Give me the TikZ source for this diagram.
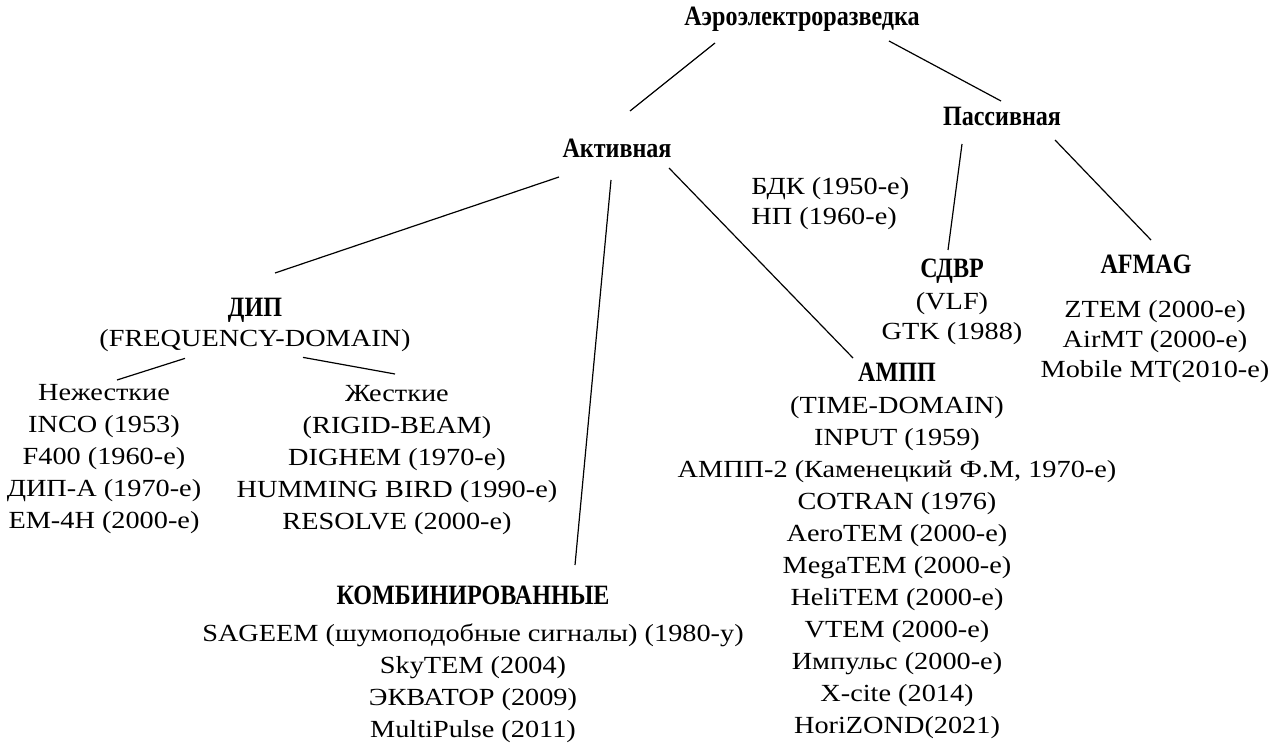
\documentclass[tikz,border=0pt]{standalone}
\usepackage{fontspec}
\setmainfont{Liberation Serif}[FakeStretch=1.15]
\newfontfamily\headfont{Liberation Serif}[FakeStretch=0.86]
\newcommand{\headtext}{\fontsize{14pt}{16pt}\headfont\bfseries}
\usetikzlibrary{calc}

\begin{document}
\begin{tikzpicture}[x=0.5pt, y=-0.5pt,
    font=\fontsize{12.3pt}{16pt}\selectfont,
    head/.style={inner sep=0pt, font=\headtext, text height=1.5ex, text depth=.25ex},
    grp/.style={inner sep=0pt, align=center, anchor=north},
    link/.style={line width=0.6pt}]
  \useasboundingbox (0,0) rectangle (1278,743);

  \node[head] (aero) at (802,20) {Аэроэлектроразведка};
  \node[head] (akt) at (617,152) {Активная};
  \node[head] (pas) at (1002,120) {Пассивная};
  \node[inner sep=0pt, align=left, anchor=north west] (bdk) at (751,177)
       {БДК (1950-е)\\[-1pt]НП (1960-е)};

  % active branch
  \node[grp] (dip) at (255,298) {{\headtext ДИП}\\[-1pt](FREQUENCY-DOMAIN)};
  \node[grp] (nezh) at (104,384) {Нежесткие\\INCO (1953)\\F400 (1960-е)\\ДИП-А (1970-е)\\EM-4H (2000-е)};
  \node[grp] (zhest) at (397,385) {Жесткие\\(RIGID-BEAM)\\DIGHEM (1970-е)\\HUMMING BIRD (1990-е)\\RESOLVE (2000-е)};
  \node[grp] (komb) at (473,586) {{\headtext КОМБИНИРОВАННЫЕ}\\[2.5pt]SAGEEM (шумоподобные сигналы) (1980-у)\\SkyTEM (2004)\\ЭКВАТОР (2009)\\MultiPulse (2011)};
  \node[grp] (ampp) at (897,363) {{\headtext АМПП}\\(TIME-DOMAIN)\\INPUT (1959)\\АМПП-2 (Каменецкий Ф.М, 1970-е)\\COTRAN (1976)\\AeroTEM (2000-е)\\MegaTEM (2000-е)\\HeliTEM (2000-е)\\VTEM (2000-е)\\Импульс (2000-е)\\X-cite (2014)\\HoriZOND(2021)};

  % passive branch
  \node[grp] (sdvr) at (952,259) {{\headtext СДВР}\\(VLF)\\[-1pt]GTK (1988)};
  \node[head] (afmag) at (1146,268) {AFMAG};
  \node[grp] (afmaglist) at (1155,300) {ZTEM (2000-е)\\[-1pt]AirMT (2000-е)\\[-1pt]Mobile MT(2010-е)};

  \draw[link] ($(aero)+(-87,23)$) -- ($(akt)+(13,-41)$);
  \draw[link] ($(aero)+(87,21)$) -- ($(pas)+(-1,-19)$);
  \draw[link] ($(akt)+(-58,25)$) -- ($(dip.north)+(20,-25)$);
  \draw[link] ($(akt)+(-6,28)$) -- ($(komb.north)+(102,-21)$);
  \draw[link] ($(akt)+(52,16)$) -- ($(ampp.north)+(-44,-5)$);
  \draw[link] ($(pas)+(-40,24)$) -- ($(sdvr.north)+(-4,-9)$);
  \draw[link] ($(pas)+(53,20)$) -- ($(afmag)+(5,-28)$);
  \draw[link] ($(dip.south)+(-70,6)$) -- ($(nezh.north)+(13,-4)$);
  \draw[link] ($(dip.south)+(48,5)$) -- ($(zhest.north)+(-2,-11)$);
\end{tikzpicture}
\end{document}
